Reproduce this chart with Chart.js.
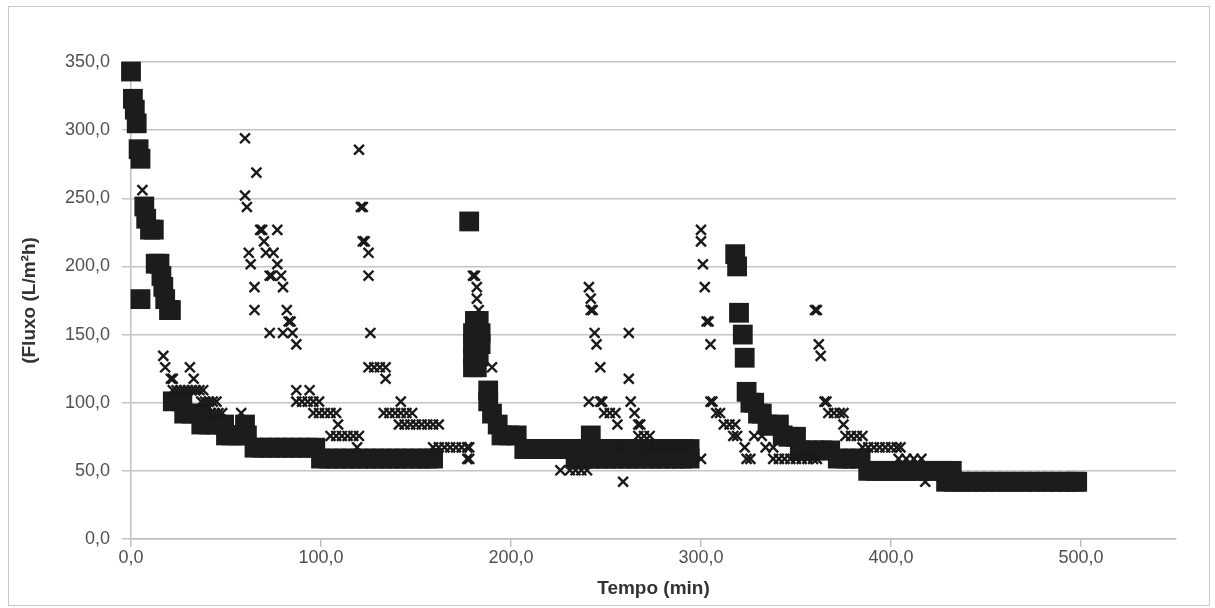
<!DOCTYPE html>
<html>
<head>
<meta charset="utf-8">
<script src="https://cdn.jsdelivr.net/npm/chart.js@4/dist/chart.umd.min.js"></script>
<style>
  html, body { margin: 0; padding: 0; background: #ffffff; }
  #wrap { position: relative; width: 1215px; height: 608px; }
  #frame { position: absolute; left: 8px; top: 6px; width: 1200px; height: 598px; border: 1px solid #c8c8c8; pointer-events: none; }
  canvas { position: absolute; left: 0; top: 0; }
</style>
</head>
<body>
<div id="wrap">
  <canvas id="c" width="1215" height="608"></canvas>
  <div id="frame"></div>
</div>
<script>
// ---- Data ----
const xTickValues = [0, 100, 200, 300, 400, 500];
const yTickValues = [0, 50, 100, 150, 200, 250, 300, 350];
const xAxisTitle = 'Tempo (min)';
const yAxisTitle = '(Fluxo (L/m²h)';

// Series 1 (square markers): time (min) and flux (L/m²h)
const sqTime = [
  0, 1, 2, 3, 4, 5, 5, 7, 8, 10, 12, 13, 15, 16, 17, 18, 20, 21,
  22, 27, 28, 32, 37, 37, 41, 45, 49, 50, 53, 57, 60, 61, 65, 69, 73, 77, 81, 85, 89, 93, 97,
  100, 104, 108, 112, 116, 120, 124, 128, 132, 136, 140, 144, 148, 152, 156, 159,
  178,
  181, 183, 180, 184, 180, 184, 180, 183, 180, 182,
  188, 188, 190, 193, 195, 199, 203,
  207, 211, 215, 219, 223, 227, 231, 235, 239, 243, 247, 251, 255, 259, 263, 267, 271, 275, 279, 283, 287, 291, 294,
  234, 238, 242, 246, 250, 254, 258, 262, 266, 270, 274, 278, 282, 286, 290, 294,
  242,
  318, 319, 320, 322, 323, 324, 326, 328, 330, 332, 335, 338, 341, 343, 346, 350, 352, 356, 360, 364, 368, 372, 376, 380, 384,
  388, 392, 396, 400, 404, 408, 412, 416, 420, 424, 428, 432,
  429, 433, 437, 441, 445, 449, 453, 457, 461, 465, 469, 473, 477, 481, 485, 489, 493, 497, 498
];
const sqFlux = [
  343, 323, 315, 305, 286, 279, 176, 244, 235, 227, 227, 202, 202, 193, 185, 176, 168, 168,
  101, 101, 92, 92, 92, 84, 84, 84, 84, 76, 76, 76, 84, 76, 67, 67, 67, 67, 67, 67, 67, 67, 67,
  59, 59, 59, 59, 59, 59, 59, 59, 59, 59, 59, 59, 59, 59, 59, 59,
  233,
  160, 160, 151, 151, 143, 143, 134, 134, 126, 126,
  109, 101, 92, 84, 76, 76, 76,
  66, 66, 66, 66, 66, 66, 66, 66, 66, 66, 66, 66, 66, 66, 66, 66, 66, 66, 66, 66, 66, 66, 66,
  59, 59, 59, 59, 59, 59, 59, 59, 59, 59, 59, 59, 59, 59, 59, 59,
  76,
  209, 200, 166, 150, 133, 108, 100, 100, 92, 92, 84, 83, 84, 76, 75, 75, 65, 65, 65, 65, 65, 59, 59, 59, 59,
  50, 50, 50, 50, 50, 50, 50, 50, 50, 50, 50, 50,
  42, 42, 42, 42, 42, 42, 42, 42, 42, 42, 42, 42, 42, 42, 42, 42, 42, 42, 42
];

// Series 2 (x markers): time (min) and flux (L/m²h)
const crTime = [
  6,
  17, 18, 31, 21, 22, 33,
  22, 24, 26, 28, 30, 32, 34, 36, 38,
  37, 39, 41, 43, 45,
  42, 44, 46, 48, 58,
  60, 66, 60, 61, 68, 69, 77, 70, 62, 71, 75, 63, 77, 73, 74, 79, 65, 80, 65, 82, 83, 84, 73, 80, 85, 87,
  87, 94, 87, 90, 93, 96, 99,
  96, 99, 102, 105, 108, 109,
  105, 108, 111, 114, 117, 120, 119,
  120, 121, 122, 122, 123, 125, 125, 126,
  125, 128, 131, 134, 134,
  142, 133, 136, 139, 142, 145, 148, 141,
  144, 147, 150, 153, 156, 159, 162,
  159, 162, 165, 168, 171, 174, 177, 178, 177, 178,
  180, 181, 182, 182, 183, 190,
  226, 231, 234, 237, 240,
  241, 242, 242, 243, 244, 245, 247,
  241, 247, 248, 249, 252, 255, 256, 258, 259,
  262, 262, 263, 265, 267, 268, 267, 270, 273,
  273, 276, 279, 282, 285, 289, 293, 300,
  300, 300, 301, 302, 303, 304, 305,
  305, 306, 308, 310, 312, 315, 318, 317, 319, 323, 324, 326,
  328, 332, 334, 338, 338, 341, 344, 347, 350, 353, 356, 359, 361,
  360, 361, 362, 363,
  365, 366, 367, 370, 373, 375, 375,
  376, 379, 382, 385,
  385, 388, 391, 394, 397, 400, 403, 405,
  404, 408, 412, 416, 418
];
const crFlux = [
  256,
  134.4, 126, 126, 117.6, 117.6, 117.6,
  109.2, 109.2, 109.2, 109.2, 109.2, 109.2, 109.2, 109.2, 109.2,
  100.8, 100.8, 100.8, 100.8, 100.8,
  92.4, 92.4, 92.4, 92.4, 92.4,
  294, 268.8, 252, 243.6, 226.8, 226.8, 226.8, 218.4, 210, 210, 210, 201.6, 201.6, 193.2, 193.2, 193.2, 184.8, 184.8, 168, 168, 159.6, 159.6, 151.2, 151.2, 151.2, 142.8,
  109.2, 109.2, 100.8, 100.8, 100.8, 100.8, 100.8,
  92.4, 92.4, 92.4, 92.4, 92.4, 84,
  75.6, 75.6, 75.6, 75.6, 75.6, 75.6, 67.2,
  285.6, 243.6, 243.6, 218.4, 218.4, 210, 193.2, 151.2,
  126, 126, 126, 126, 117.6,
  100.8, 92.4, 92.4, 92.4, 92.4, 92.4, 92.4, 84,
  84, 84, 84, 84, 84, 84, 84,
  67.2, 67.2, 67.2, 67.2, 67.2, 67.2, 67.2, 67.2, 58.8, 58.8,
  193.2, 193.2, 184.8, 176.4, 168, 126,
  50.4, 50.4, 50.4, 50.4, 50.4,
  184.8, 176.4, 168, 168, 151.2, 142.8, 126,
  100.8, 100.8, 100.8, 92.4, 92.4, 92.4, 84, 67.2, 42,
  151.2, 117.6, 100.8, 92.4, 84, 84, 75.6, 75.6, 75.6,
  67.2, 67.2, 67.2, 67.2, 67.2, 67.2, 67.2, 58.8,
  226.8, 218.4, 201.6, 184.8, 159.6, 159.6, 142.8,
  100.8, 100.8, 92.4, 92.4, 84, 84, 84, 75.6, 75.6, 67.2, 58.8, 58.8,
  75.6, 75.6, 67.2, 67.2, 58.8, 58.8, 58.8, 58.8, 58.8, 58.8, 58.8, 58.8, 58.8,
  168, 168, 142.8, 134.4,
  100.8, 100.8, 92.4, 92.4, 92.4, 92.4, 84,
  75.6, 75.6, 75.6, 75.6,
  67.2, 67.2, 67.2, 67.2, 67.2, 67.2, 67.2, 67.2,
  58.8, 58.8, 58.8, 58.8, 42
];

// ---- Chart ----
const fmt = v => Number(v).toFixed(1).replace('.', ',');
const squares = sqTime.map((t, i) => ({ x: t, y: sqFlux[i] }));
const crosses = crTime.map((t, i) => ({ x: t, y: crFlux[i] }));
const tickFont = { family: "'Liberation Sans', 'Open Sans', sans-serif", size: 18 };
const titleFont = { family: "'Liberation Sans', 'Open Sans', sans-serif", size: 19, weight: 'bold' };
const axisColor = '#bfbfbf';

new Chart(document.getElementById('c'), {
  type: 'scatter',
  data: {
    datasets: [
      {
        label: 'x',
        data: crosses,
        pointStyle: 'crossRot',
        pointRadius: 7,
        pointHoverRadius: 7,
        borderColor: '#1a1a1a',
        backgroundColor: '#1a1a1a',
        pointBorderWidth: 2.4,
        clip: false
      },
      {
        label: 'squares',
        data: squares,
        pointStyle: 'rect',
        pointRadius: 14,
        pointHoverRadius: 14,
        backgroundColor: '#1c1c1c',
        borderColor: '#1c1c1c',
        pointBorderWidth: 0,
        clip: false
      }
    ]
  },
  options: {
    responsive: false,
    animation: false,
    devicePixelRatio: 1,
    layout: { padding: { left: 0, right: 39, top: 62, bottom: 0 } },
    plugins: { legend: { display: false }, tooltip: { enabled: false } },
    scales: {
      x: {
        type: 'linear',
        min: 0,
        max: 550,
        afterBuildTicks: axis => { axis.ticks = xTickValues.map(v => ({ value: v })); },
        afterFit: axis => { axis.height = 69; },
        grid: { drawOnChartArea: false, drawTicks: true, tickLength: 8, color: axisColor, lineWidth: 1.5 },
        border: { display: true, color: axisColor, width: 1.5 },
        ticks: { callback: v => fmt(v), color: '#505050', font: tickFont, padding: 0, maxRotation: 0 },
        title: { display: true, text: xAxisTitle, color: '#333333', font: titleFont, padding: { top: 0, bottom: 8 } }
      },
      y: {
        type: 'linear',
        min: 0,
        max: 350,
        afterBuildTicks: axis => { axis.ticks = yTickValues.map(v => ({ value: v })); },
        afterFit: axis => { axis.width = 131; },
        grid: { color: '#c4c4c4', lineWidth: 1.5, tickLength: 9, drawTicks: true },
        border: { display: true, color: axisColor, width: 1.5 },
        ticks: { callback: v => fmt(v), color: '#505050', font: tickFont, padding: 12 },
        title: { display: true, text: yAxisTitle, color: '#333333', font: titleFont, padding: { top: 18, bottom: 0 } }
      }
    }
  }
});
</script>
</body>
</html>
